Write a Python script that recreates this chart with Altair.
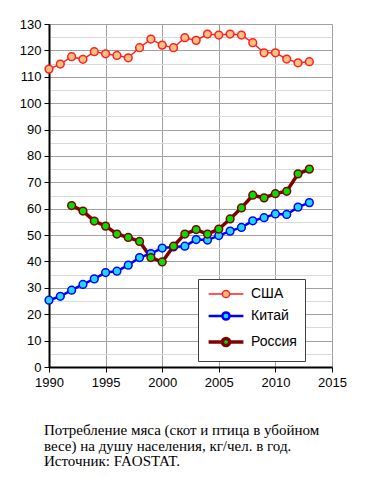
import altair as alt
import pandas as pd

years = [1990, 1991, 1992, 1993, 1994, 1995, 1996, 1997, 1998, 1999, 2000, 2001,
         2002, 2003, 2004, 2005, 2006, 2007, 2008, 2009, 2010, 2011, 2012, 2013]
usa = [112.9, 114.8, 117.6, 116.6, 119.5, 118.7, 118.1, 117.2, 121.0, 124.3, 122.0, 121.0,
       124.8, 123.8, 126.2, 125.8, 126.2, 125.8, 122.9, 119.1, 119.1, 116.7, 115.3, 115.7]
china = [25.3, 26.8, 29.1, 31.3, 33.4, 35.8, 36.3, 38.6, 41.5, 43.0, 45.1, 45.5,
         45.8, 48.3, 48.1, 49.8, 51.5, 52.9, 55.4, 56.6, 58.0, 57.8, 60.6, 62.3]
russia_years = years[2:]
russia = [61.2, 59.1, 55.3, 53.4, 50.4, 49.1, 47.6, 41.5, 39.8, 45.8, 50.4,
          52.1, 50.4, 52.3, 56.1, 60.3, 65.1, 64.1, 65.7, 66.6, 73.2, 75.0]

series_names = ["США", "Китай", "Россия"]
line_colors = ["#ff2020", "#0000ff", "#800000"]
fill_colors = ["#ffc080", "#20d8ff", "#00e000"]
line_widths = [1.5, 3.5, 3.5]

x_ticks = [1990, 1995, 2000, 2005, 2010, 2015]
y_ticks = [0, 5, 10, 15, 20, 25, 30, 35, 40, 45, 50, 55, 60, 65,
           70, 75, 80, 85, 90, 95, 100, 105, 110, 115, 120, 125, 130]

caption = ["Потребление мяса (скот и птица в убойном",
           "весе) на душу населения, кг/чел. в год.",
           "Источник: FAOSTAT."]

rows = []
for name, xs, vs in [("США", years, usa), ("Китай", years, china), ("Россия", russia_years, russia)]:
    for x, v in zip(xs, vs):
        rows.append({"year": x, "value": v, "series": name})
df = pd.DataFrame(rows)

legend_path = ("M-2.9,0H-0.6A0.6,0.6 0 1,1 0.6,0A0.6,0.6 0 1,1 -0.6,0Z"
               "M0.6,0H2.9")
legend = alt.Legend(
    title=None, orient="none", legendX=149, legendY=255,
    symbolType=legend_path, symbolSize=144, symbolOffset=12,
    labelOffset=17, labelFont="Liberation Sans", labelFontSize=14, labelColor="black",
    padding=8, rowPadding=5.5, fillColor="white", strokeColor="#404040",
    symbolOpacity=1,
)

x_axis = alt.Axis(values=x_ticks, format="d", title=None, grid=True, gridColor="#a0a0a0",
                  domainColor="black", domainWidth=2, tickColor="black",
                  tickSize=5, labelPadding=4, labelFont="Liberation Sans",
                  labelFontSize=13, labelColor="black", labelFlush=False)
y_axis = alt.Axis(values=y_ticks, title=None, grid=True,
                  gridColor={"condition": {"test": "datum.value % 10 === 0", "value": "#a0a0a0"},
                             "value": "#dadada"},
                  tickOpacity={"condition": {"test": "datum.value % 10 === 0", "value": 1},
                               "value": 0},
                  labelExpr="datum.value % 10 === 0 ? datum.label : ''",
                  labelOverlap=False,
                  domainColor="black", domainWidth=2, tickColor="black",
                  tickSize=5, labelPadding=3, labelFont="Liberation Sans",
                  labelFontSize=13, labelColor="black")

x_enc = alt.X("year:Q", scale=alt.Scale(domain=[1990, 2015], nice=False, zero=False), axis=x_axis)
y_enc = alt.Y("value:Q", scale=alt.Scale(domain=[0, 130], nice=False), axis=y_axis)

base = alt.Chart(df)
lines = base.mark_line().encode(
    x=x_enc, y=y_enc,
    stroke=alt.Stroke("series:N", scale=alt.Scale(domain=series_names, range=line_colors), legend=legend),
    strokeWidth=alt.StrokeWidth("series:N", scale=alt.Scale(domain=series_names, range=line_widths), legend=legend),
    detail="series:N",
)
points = base.mark_point(shape="circle", filled=False, size=60, strokeWidth=1.5, opacity=1).encode(
    x=x_enc, y=y_enc,
    fill=alt.Fill("series:N", scale=alt.Scale(domain=series_names, range=fill_colors), legend=legend),
    stroke=alt.Stroke("series:N", scale=alt.Scale(domain=series_names, range=line_colors), legend=legend),
)

chart = alt.layer(lines, points).properties(
    width=283, height=343,
    autosize=alt.AutoSizeParams(type="none"),
    padding={"left": 41, "top": 16, "right": 26, "bottom": 111},
    title=alt.Title(text=caption, orient="bottom", anchor="start", frame="group",
                    font="Liberation Serif", fontSize=15, fontWeight="normal", color="black",
                    offset=34, dx=-5, lineHeight=15.5),
).configure_view(stroke="#a0a0a0").configure(background="white")

chart.save("out.html", embed_options={"renderer": "svg", "actions": False})
